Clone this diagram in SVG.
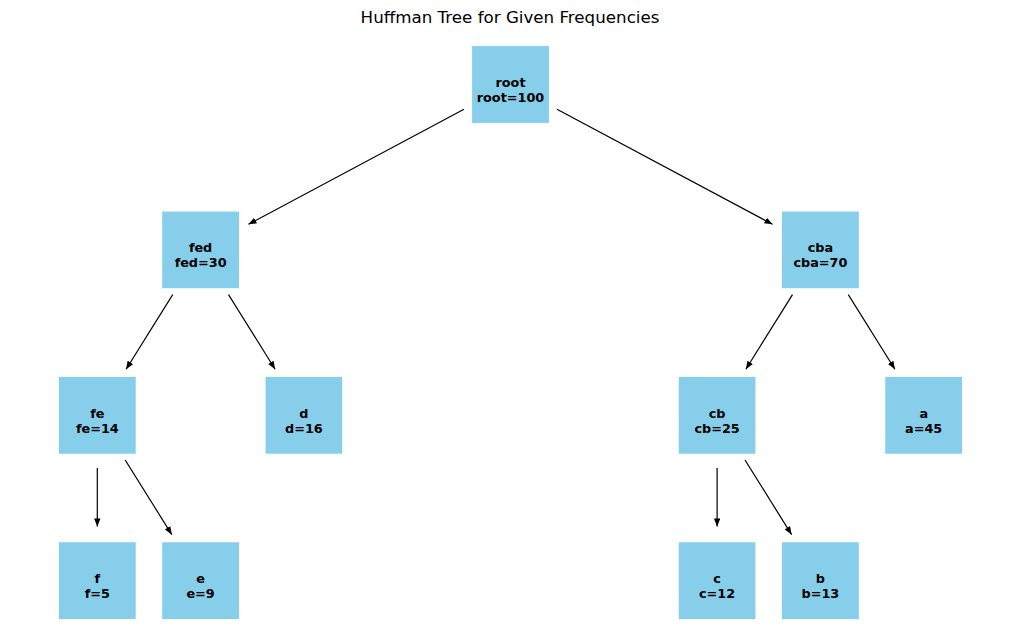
<svg xmlns="http://www.w3.org/2000/svg" width="1019" height="642" viewBox="0 0 1019 642">
<defs>
<style>
.box{fill:#87CEEB;stroke:#ffffff;stroke-width:0.8}
.lbl{font-family:"DejaVu Sans",sans-serif;font-weight:bold;font-size:12.8px;fill:#000;text-anchor:middle}
.edge{stroke:#000;stroke-width:1.2;fill:none;marker-end:url(#ah)}
.title{font-family:"DejaVu Sans",sans-serif;font-size:16.7px;fill:#000;text-anchor:middle}
</style>
<marker id="ah" markerUnits="userSpaceOnUse" markerWidth="10" markerHeight="8" refX="8" refY="3.2" orient="auto">
<path d="M0,0 L8,3.2 L0,6.4 z" fill="#000"/>
</marker>
</defs>
<rect width="1019" height="642" fill="#fff"/>
<text class="title" x="510" y="23.3">Huffman Tree for Given Frequencies</text>
<g id="connectors">
<line class="edge" x1="464.0" y1="109.3" x2="248.5" y2="224.3"/>
<line class="edge" x1="557.0" y1="109.3" x2="772.5" y2="224.3"/>
<line class="edge" x1="172.7" y1="294.6" x2="126.1" y2="369.2"/>
<line class="edge" x1="228.5" y1="294.6" x2="275.1" y2="369.2"/>
<line class="edge" x1="792.5" y1="294.6" x2="745.9" y2="369.2"/>
<line class="edge" x1="848.3" y1="294.6" x2="894.9" y2="369.2"/>
<line class="edge" x1="97.3" y1="468.0" x2="97.3" y2="526.4"/>
<line class="edge" x1="125.2" y1="460.0" x2="171.8" y2="534.6"/>
<line class="edge" x1="717.1" y1="468.0" x2="717.1" y2="526.4"/>
<line class="edge" x1="745.0" y1="460.0" x2="791.6" y2="534.6"/>
</g>
<g id="node-root"><rect class="box" x="471.7" y="45.7" width="77.6" height="77.6"/><text class="lbl" x="510.5" y="87">root</text><text class="lbl" x="510.5" y="102">root=100</text></g>
<g id="node-fed"><rect class="box" x="161.8" y="211.1" width="77.6" height="77.6"/><text class="lbl" x="200.6" y="252.4">fed</text><text class="lbl" x="200.6" y="267.4">fed=30</text></g>
<g id="node-cba"><rect class="box" x="781.6" y="211.1" width="77.6" height="77.6"/><text class="lbl" x="820.4" y="252.4">cba</text><text class="lbl" x="820.4" y="267.4">cba=70</text></g>
<g id="node-fe"><rect class="box" x="58.5" y="376.5" width="77.6" height="77.6"/><text class="lbl" x="97.3" y="417.8">fe</text><text class="lbl" x="97.3" y="432.8">fe=14</text></g>
<g id="node-d"><rect class="box" x="265.1" y="376.5" width="77.6" height="77.6"/><text class="lbl" x="303.9" y="417.8">d</text><text class="lbl" x="303.9" y="432.8">d=16</text></g>
<g id="node-cb"><rect class="box" x="678.3" y="376.5" width="77.6" height="77.6"/><text class="lbl" x="717.1" y="417.8">cb</text><text class="lbl" x="717.1" y="432.8">cb=25</text></g>
<g id="node-a"><rect class="box" x="884.9" y="376.5" width="77.6" height="77.6"/><text class="lbl" x="923.7" y="417.8">a</text><text class="lbl" x="923.7" y="432.8">a=45</text></g>
<g id="node-f"><rect class="box" x="58.5" y="541.9" width="77.6" height="77.6"/><text class="lbl" x="97.3" y="583.2">f</text><text class="lbl" x="97.3" y="598.2">f=5</text></g>
<g id="node-e"><rect class="box" x="161.8" y="541.9" width="77.6" height="77.6"/><text class="lbl" x="200.6" y="583.2">e</text><text class="lbl" x="200.6" y="598.2">e=9</text></g>
<g id="node-c"><rect class="box" x="678.3" y="541.9" width="77.6" height="77.6"/><text class="lbl" x="717.1" y="583.2">c</text><text class="lbl" x="717.1" y="598.2">c=12</text></g>
<g id="node-b"><rect class="box" x="781.6" y="541.9" width="77.6" height="77.6"/><text class="lbl" x="820.4" y="583.2">b</text><text class="lbl" x="820.4" y="598.2">b=13</text></g>
</svg>
